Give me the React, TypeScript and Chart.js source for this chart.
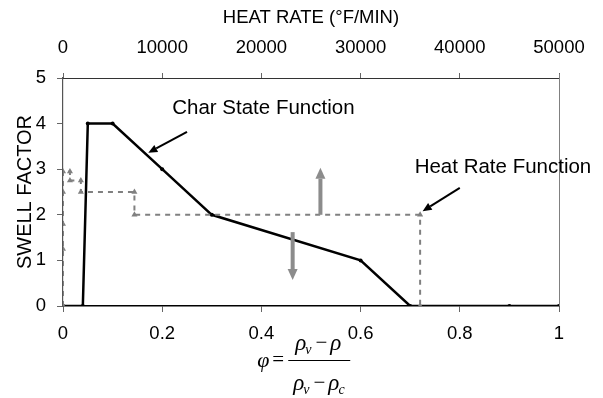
import React, { useEffect, useRef } from "react";
import { Chart, registerables } from "chart.js";

Chart.register(...registerables);

// Char state function (phi vs swell factor)
const phiValues = [0, 0.04, 0.05, 0.1, 0.2, 0.3, 0.6, 0.7, 0.9, 1];
const charSwell = [0, 0, 4, 4, 3, 2, 1, 0, 0, 0];

// Heat rate function (heat rate °F/min vs swell factor)
const heatRate = [0, 0, 0, 0, 0, 700, 700, 1800, 1800, 7200, 7200, 36000, 36000];
const heatSwell = [0, 1.25, 1.8, 2.5, 2.95, 2.95, 2.75, 2.75, 2.5, 2.5, 2.0, 2.0, 0];

const phiTicks = ["0", "0.2", "0.4", "0.6", "0.8", "1"];
const heatTicks = ["0", "10000", "20000", "30000", "40000", "50000"];
const swellTicks = ["0", "1", "2", "3", "4", "5"];

const FONT = "'Liberation Sans', Arial, Helvetica, sans-serif";

function drawArrow(ctx: CanvasRenderingContext2D, x1: number, y1: number, x2: number, y2: number, color: string, width: number, headLen: number, headW: number) {
  const ang = Math.atan2(y2 - y1, x2 - x1);
  const bx = x2 - Math.cos(ang) * headLen;
  const by = y2 - Math.sin(ang) * headLen;
  ctx.save();
  ctx.strokeStyle = color;
  ctx.fillStyle = color;
  ctx.lineWidth = width;
  ctx.setLineDash([]);
  ctx.beginPath();
  ctx.moveTo(x1, y1);
  ctx.lineTo(bx, by);
  ctx.stroke();
  ctx.beginPath();
  ctx.moveTo(x2, y2);
  ctx.lineTo(bx + Math.sin(ang) * headW / 2, by - Math.cos(ang) * headW / 2);
  ctx.lineTo(bx - Math.sin(ang) * headW / 2, by + Math.cos(ang) * headW / 2);
  ctx.closePath();
  ctx.fill();
  ctx.restore();
}

const annotationPlugin = {
  id: "annotations",
  afterDraw(chart: any) {
    const { ctx, chartArea, scales } = chart;
    const xs = scales.x;
    const ys = scales.y;
    const px = (v: number) => xs.getPixelForValue(v);
    const py = (v: number) => ys.getPixelForValue(v);

    ctx.save();
    // right border
    ctx.strokeStyle = "#808080";
    ctx.lineWidth = 1;
    ctx.beginPath();
    ctx.moveTo(chartArea.right + 0.5, chartArea.top - 4);
    ctx.lineTo(chartArea.right + 0.5, chartArea.bottom);
    ctx.stroke();

    // grey direction arrows
    drawArrow(ctx, px(0.519), py(2.0), px(0.519), py(3.03), "#8c8c8c", 4, 11, 10);
    drawArrow(ctx, px(0.463), py(1.62), px(0.463), py(0.57), "#8c8c8c", 4, 11, 10);

    // callout arrows
    drawArrow(ctx, px(0.25), py(3.82), px(0.172), py(3.36), "#000", 2, 9, 8);
    drawArrow(ctx, px(0.8), py(2.59), px(0.725), py(2.08), "#000", 2, 9, 8);

    ctx.fillStyle = "#000";
    ctx.font = `20.5px ${FONT}`;
    ctx.textAlign = "center";
    ctx.textBaseline = "middle";
    ctx.fillText("Char State Function", px(0.404), py(4.34));
    ctx.fillText("Heat Rate Function", px(0.887), py(3.05));

    // formula  phi = (rho_v - rho)/(rho_v - rho_c)
    const cx = px(0.44);
    const base = chartArea.bottom;
    const serif = "'Liberation Serif', 'DejaVu Serif', serif";
    ctx.textBaseline = "alphabetic";
    ctx.textAlign = "left";
    ctx.font = `italic 22px ${serif}`;
    ctx.fillText("φ", cx - 24, base + 61);
    ctx.font = `21px ${serif}`;
    ctx.fillText("=", cx - 9, base + 60);
    // fraction line
    ctx.strokeStyle = "#000";
    ctx.lineWidth = 1.2;
    ctx.beginPath();
    ctx.moveTo(cx + 7, base + 54.5);
    ctx.lineTo(cx + 69, base + 54.5);
    ctx.stroke();
    const drawRho = (x: number, y: number, sub: string) => {
      ctx.font = `italic 23px ${serif}`;
      ctx.fillText("ρ", x, y);
      let w = ctx.measureText("ρ").width;
      if (sub) {
        ctx.font = `italic 14px ${serif}`;
        ctx.fillText(sub, x + w - 1, y + 4);
        w += ctx.measureText(sub).width;
      }
      return x + w;
    };
    // numerator
    let x = drawRho(cx + 14, base + 44, "v");
    ctx.font = `21px ${serif}`;
    ctx.fillText("−", x + 3, base + 43);
    x = x + 3 + ctx.measureText("−").width + 3;
    drawRho(x, base + 44, "");
    // denominator
    x = drawRho(cx + 12, base + 84, "v");
    ctx.font = `21px ${serif}`;
    ctx.fillText("−", x + 3, base + 83);
    x = x + 3 + ctx.measureText("−").width + 3;
    drawRho(x, base + 84, "c");
    ctx.restore();
  },
};

export default function App() {
  const ref = useRef<HTMLCanvasElement | null>(null);
  useEffect(() => {
    if (!ref.current) return;
    const charData = phiValues.map((v, i) => ({ x: v, y: charSwell[i] }));
    const heatData = heatRate.map((v, i) => ({ x: v, y: heatSwell[i] }));
    const tickFont = { family: FONT, size: 18.5 };
    const chart = new Chart(ref.current, {
      type: "scatter",
      data: {
        datasets: [
          {
            label: "Heat Rate Function",
            data: heatData,
            xAxisID: "x2",
            yAxisID: "y",
            showLine: true,
            borderColor: "#808080",
            backgroundColor: "#808080",
            borderWidth: 2,
            borderDash: [5, 5],
            pointStyle: "triangle",
            pointRadius: 3.5,
            pointBorderWidth: 0,
            pointBackgroundColor: "#808080",
          },
          {
            label: "Char State Function",
            data: charData,
            xAxisID: "x",
            yAxisID: "y",
            showLine: true,
            borderColor: "#000",
            backgroundColor: "#000",
            borderWidth: 2.5,
            pointRadius: 2,
            pointBorderWidth: 0,
            pointBackgroundColor: "#000",
          },
        ],
      },
      options: {
        responsive: false,
        animation: false,
        layout: { padding: 0 },
        plugins: { legend: { display: false }, tooltip: { enabled: false } },
        scales: {
          x: {
            type: "linear",
            position: "bottom",
            min: 0,
            max: 1,
            afterFit: (s: any) => { s.height = 92; },
            ticks: {
              stepSize: 0.2,
              color: "#000",
              font: tickFont,
              padding: 11,
              maxRotation: 0,
              callback: (_v: any, i: number) => phiTicks[i],
            },
            grid: { drawOnChartArea: false, tickLength: 6, color: "#666" },
            border: { color: "#000", width: 1.5 },
          },
          x2: {
            type: "linear",
            position: "top",
            min: 0,
            max: 50000,
            afterFit: (s: any) => { s.height = 78; },
            title: {
              display: true,
              text: "HEAT RATE (°F/MIN)",
              color: "#000",
              font: { family: FONT, size: 18.5 },
              padding: { top: 7, bottom: 0 },
            },
            ticks: {
              stepSize: 10000,
              color: "#000",
              font: tickFont,
              padding: 14,
              maxRotation: 0,
              callback: (_v: any, i: number) => heatTicks[i],
            },
            grid: { drawOnChartArea: false, tickLength: 5, color: "#666" },
            border: { color: "#333", width: 1 },
          },
          y: {
            type: "linear",
            position: "left",
            min: 0,
            max: 5,
            afterFit: (s: any) => { s.width = 63; },
            title: {
              display: true,
              text: "SWELL FACTOR",
              color: "#000",
              font: { family: FONT, size: 20 },
              padding: { top: 13, bottom: 0 },
            },
            ticks: {
              stepSize: 1,
              color: "#000",
              font: tickFont,
              padding: 11,
              callback: (_v: any, i: number) => swellTicks[i],
            },
            grid: { drawOnChartArea: false, tickLength: 6, color: "#666" },
            border: { color: "#555", width: 1.2 },
          },
        },
      },
      plugins: [
        annotationPlugin,
        {
          id: "rightPad",
          beforeLayout(c: any) {
            c.options.layout.padding = { right: 44 };
          },
        },
      ],
    } as any);
    return () => chart.destroy();
  }, []);
  return (
    <div style={{ position: "absolute", left: 0, top: 0, width: 603, height: 398, background: "#fff" }}>
      <canvas ref={ref} width={603} height={398} style={{ width: 603, height: 398 }} />
    </div>
  );
}
